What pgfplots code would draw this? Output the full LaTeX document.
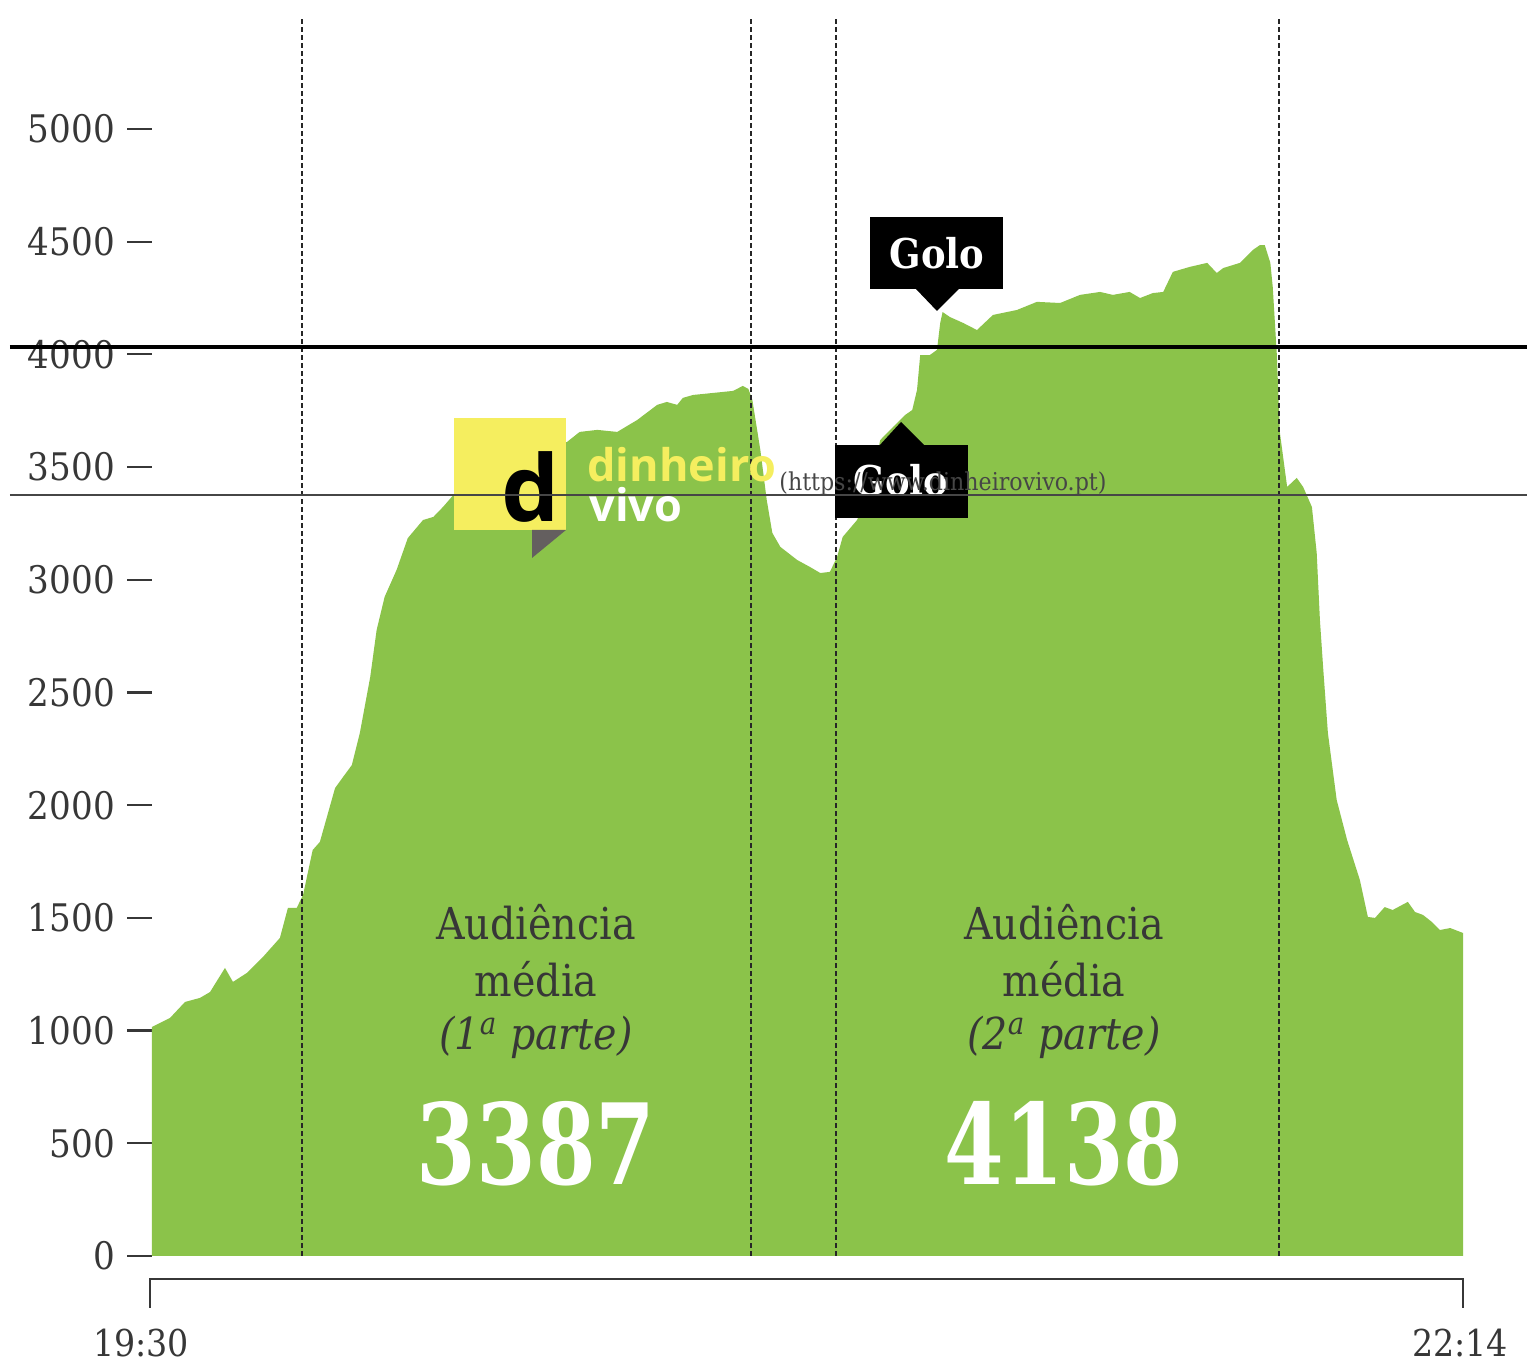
\documentclass[border=0pt]{standalone}
\usepackage{fontspec}
\usepackage{pgfplots}
\usepackage{graphicx}
\pgfplotsset{compat=1.18}
\setmainfont{DejaVu Serif Condensed}
\newfontfamily\logofont{Open Sans}
\definecolor{areagreen}{RGB}{139,195,74}
\definecolor{logoyellow}{RGB}{245,238,95}
\definecolor{logogray}{RGB}{100,95,95}
\definecolor{txtgray}{RGB}{55,55,55}
\definecolor{urlgray}{RGB}{70,70,70}
\begin{document}
\begin{tikzpicture}
\begin{axis}[
  scale only axis, width=655.5pt, height=563.5pt,
  xmin=0, xmax=164, ymin=0, ymax=5000,
  enlargelimits=false, clip=false,
  axis lines*=left, axis line style={draw=none},
  xtick=\empty,
  ytick={0,500,...,5000},
  tick align=outside, major tick length=12.5pt,
  ytick pos=left,
  y tick style={line width=1.1pt, color=txtgray},
  yticklabel style={font=\fontsize{19}{22}\selectfont, color=txtgray, xshift=-2.5pt},
  /pgf/number format/assume math mode=true,
  /pgf/number format/set thousands separator={},
]
\addplot[fill=areagreen, draw=none] coordinates {
(0,1016) (1.0,1034) (2.25,1056) (4.13,1127) (6.0,1145) (7.26,1171) (9.13,1278)
(10.13,1216) (11.88,1256) (13.89,1327) (16.0,1411) (17.0,1544) (18.1,1544)
(18.9,1602) (20.1,1801) (21.0,1837) (22.9,2076) (23.9,2125) (25.0,2178)
(26.0,2320) (27.3,2569) (28.1,2777) (29.1,2924) (30.6,3044) (32.0,3185)
(33.9,3265) (35.2,3279) (36.4,3323) (37.7,3376) (41.0,3465) (46.0,3554)
(51.9,3611) (53.5,3656) (55.7,3665) (58.2,3656) (60.7,3709) (63.2,3776)
(64.4,3789) (65.7,3776) (66.4,3807) (67.7,3820) (70.2,3829) (72.7,3838)
(73.9,3860) (74.6,3847) (75.1,3798) (76.1,3576) (76.9,3354) (77.6,3208)
(78.6,3146) (80.7,3088) (82.3,3057) (83.6,3030) (84.8,3035) (85.7,3101)
(86.4,3190) (88.2,3265) (89.8,3398) (91.1,3620) (92.7,3678) (94.2,3731)
(95.1,3753) (95.7,3842) (96.1,3997) (97.3,3997) (98.2,4020) (98.6,4139)
(98.9,4188) (99.8,4166) (101.5,4139) (103.2,4108) (105.2,4175) (108.2,4197)
(110.7,4233) (113.6,4228) (116.1,4264) (118.6,4277) (120.2,4264) (122.3,4277)
(123.6,4250) (125.2,4272) (126.5,4277) (127.7,4366) (129.8,4388) (132.0,4406)
(133.2,4361) (134.0,4383) (136.1,4406) (137.7,4463) (138.6,4485) (139.2,4485)
(139.9,4406) (140.2,4299) (140.7,4006) (141.1,3651) (142.0,3412) (143.2,3452)
(144.0,3412) (145.1,3323) (145.7,3119) (146.1,2822) (146.5,2613) (147.1,2320)
(148.2,2023) (149.5,1846) (151.1,1668) (152.1,1504) (153.0,1500) (154.2,1548)
(155.2,1535) (157.1,1571) (158.0,1526) (159.0,1513) (160.1,1482) (161.1,1446)
(162.4,1455) (164.0,1433)
} \closedcycle;
\foreach \t in {18.8,74.9,85.6,141.0}{
  \edef\tmp{\noexpand\draw[black!85, line width=1.2pt, dash pattern=on 2.5pt off 1.5pt] (axis cs:\t,0) -- (axis cs:\t,5490);}
  \tmp
}
\coordinate (O) at (axis cs:0,0);
\end{axis}
\begin{scope}[shift={(O)}, xshift=-76pt, yshift=628pt, x=0.5pt, y=-0.5pt]
  % x bracket
  \draw[line width=1pt, color=txtgray] (150,1308) -- (150,1279) -- (1463,1279) -- (1463,1308);
  \node[anchor=base, color=txtgray, font=\fontsize{18.5}{22}\selectfont] at (141,1357) {19:30};
  \node[anchor=base, color=txtgray, font=\fontsize{18.5}{22}\selectfont] at (1460,1357) {22:14};
  % averages
  \foreach \cx/\num/\pt in {536/3387/1, 1064/4138/2}{
    \node[anchor=base, color=txtgray, font=\fontsize{22}{26}\selectfont] at (\cx,940) {Audiência};
    \node[anchor=base, color=txtgray, font=\fontsize{22}{26}\selectfont] at (\cx,997) {média};
    \node[anchor=base, color=txtgray, font=\fontsize{22}{26}\itshape] at (\cx,1050) {(\pt\textsuperscript{a} parte)};
    \node[anchor=base, color=white, font=\fontsize{56}{60}\selectfont\bfseries] at (\cx,1185) {\scalebox{0.85}[1.0]{\num}};
  }
  % logo
  \fill[logoyellow] (454,418) rectangle (566,530);
  \fill[logogray] (532,530) -- (566,530) -- (532,558) -- cycle;
  \node[anchor=base west, inner sep=0pt, font=\logofont\fontsize{46}{50}\selectfont\bfseries, color=black] at (501,522) {d};
  \node[anchor=base west, inner sep=0pt, font=\logofont\fontsize{22.5}{26}\selectfont\bfseries, color=logoyellow] at (587,482) {dinheiro};
  \node[anchor=base west, inner sep=0pt, font=\logofont\fontsize{22.5}{26}\selectfont\bfseries, color=white] at (589,522) {vivo};
  % Golo boxes
  \fill[black] (870,217) rectangle (1003,289);
  \fill[black] (915,288) -- (937,311) -- (960,288) -- cycle;
  \node[color=white, font=\fontsize{20.5}{24}\selectfont\bfseries] at (937,253) {Golo};
  \fill[black] (835,445) rectangle (968,518);
  \fill[black] (879,446) -- (901,422) -- (925,446) -- cycle;
  \node[color=white, font=\fontsize{20.5}{24}\selectfont\bfseries] at (901,480) {Golo};
  % page lines
  \draw[black, line width=2pt] (10,347) -- (1527,347);
  \draw[urlgray, line width=1pt] (10,495) -- (1527,495);
  \node[anchor=base west, inner sep=0pt, color=urlgray, font=\fontsize{12.3}{14}\selectfont] at (779,491) {(https://www.dinheirovivo.pt)};
\end{scope}
\pgfresetboundingbox
\path[shift={(O)}, xshift=-76pt, yshift=628pt, x=0.5pt, y=-0.5pt] (0,0) rectangle (1527,1363);
\end{tikzpicture}
\end{document}
